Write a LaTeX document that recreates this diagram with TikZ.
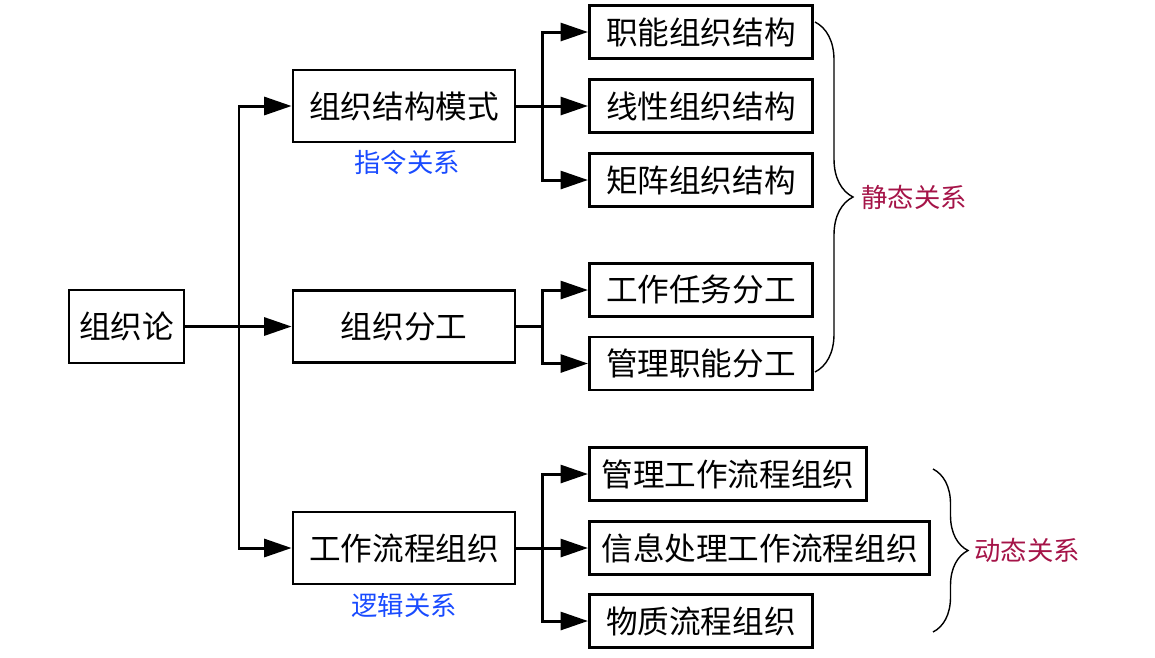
\documentclass[tikz,border=0pt]{standalone}
\usepackage{fontspec}
\setmainfont{Noto Sans CJK SC}
\usetikzlibrary{arrows.meta,decorations.pathreplacing}
\definecolor{lanse}{RGB}{25,75,255}
\definecolor{hongse}{RGB}{165,20,72}

\tikzset{
  kuang/.style={draw, line width=1.6pt, inner xsep=0.24cm,
    font=\fontsize{18pt}{21pt}\selectfont},
  zhong/.style={kuang, minimum width=4.44cm, minimum height=1.44cm},
  xiao/.style={kuang, anchor=west, minimum width=4.46cm, minimum height=1.06cm},
  xian/.style={line width=1.7pt},
  jt/.style={xian, -{Triangle[length=0.55cm,width=0.36cm]}},
  kuohao/.style={line width=0.8pt, decorate, decoration={brace,amplitude=#1}},
  lanzi/.style={text=lanse, font=\fontsize{15pt}{18pt}\selectfont},
  hongzi/.style={text=hongse, font=\fontsize{15pt}{18pt}\selectfont}
}

\begin{document}
\begin{tikzpicture}[x=0.02cm,y=-0.02cm]
\useasboundingbox (0,0) rectangle (1155,657);

% 根
\node[kuang, inner xsep=0.15cm, minimum width=2.3cm, minimum height=1.46cm] (root) at (126.5,326.5) {组织论};

% 第二层
\node[zhong] (m1) at (404,106) {组织结构模式};
\node[zhong] (m2) at (404,326.5) {组织分工};
\node[zhong] (m3) at (404,548) {工作流程组织};
\node[lanzi] (zl) at (407,162) {指令关系};
\node[lanzi] (lj) at (404,605) {逻辑关系};

% 第三层
\node[xiao] (s1) at (588,32) {职能组织结构};
\node[xiao] (s2) at (588,106) {线性组织结构};
\node[xiao] (s3) at (588,180) {矩阵组织结构};
\node[xiao] (s4) at (588,290) {工作任务分工};
\node[xiao] (s5) at (588,363.5) {管理职能分工};
\node[xiao] (s6) at (588,474) {管理工作流程组织};
\node[xiao] (s7) at (588,548) {信息处理工作流程组织};
\node[xiao] (s8) at (588,621) {物质流程组织};

% 连线
\coordinate (gan) at (239,326.5);
\coordinate (zhi1) at (542,106);
\coordinate (zhi2) at (542,326.5);
\coordinate (zhi3) at (542,548);

\draw[jt] (root) -- (m2);
\draw[jt] (gan) |- (m1);
\draw[jt] (gan) |- (m3);

\draw[jt] (m1) -- (s2);
\draw[jt] (zhi1) |- (s1);
\draw[jt] (zhi1) |- (s3);

\draw[xian] (m2) -- (zhi2);
\draw[jt] (zhi2) |- (s4);
\draw[jt] (zhi2) |- (s5);

\draw[jt] (m3) -- (s7);
\draw[jt] (zhi3) |- (s6);
\draw[jt] (zhi3) |- (s8);

% 大括号
\coordinate (k1a) at (815,22);
\coordinate (k1b) at (815,372);
\draw[kuohao=0.76cm] (k1a) -- (k1b);
\node[hongzi] (jingtai) at (914,197) {静态关系};

\coordinate (k2a) at (933,469);
\coordinate (k2b) at (933,632);
\draw[kuohao=0.7cm] (k2a) -- (k2b);
\node[hongzi] (dongtai) at (1027,550) {动态关系};

\end{tikzpicture}
\end{document}
